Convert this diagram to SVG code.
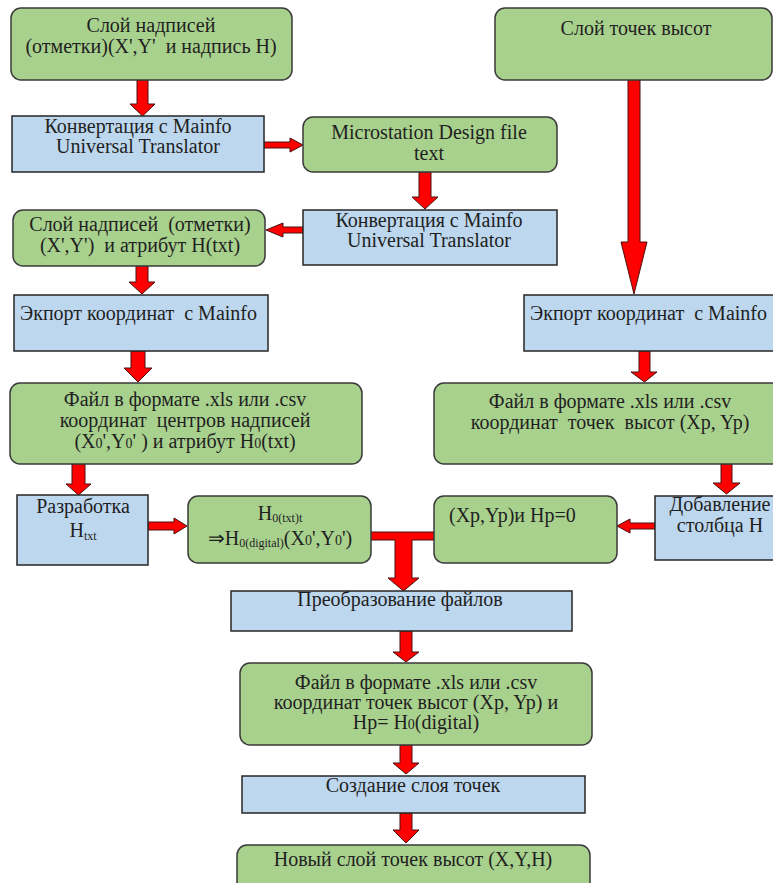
<svg xmlns="http://www.w3.org/2000/svg" width="773" height="883" viewBox="0 0 773 883">
<style>
.g{fill:#a9d18e;stroke:#3a3a3a;stroke-width:1.5}
.b{fill:#bdd7ee;stroke:#262626;stroke-width:1.5}
.a{fill:#ff0000;stroke:#4a1010;stroke-width:1}
text{font-family:"Liberation Serif","Times New Roman",serif;font-size:20px;fill:#1f1f1f}
.c{text-anchor:middle}
.s{font-size:12px}
.s2{font-size:14px}
</style>
<rect width="773" height="883" fill="#ffffff"/>
<g id="connectors">
<polygon class="a" points="137,80 148,80 148,104 155,104 142.5,116 130,104 137,104"/>
<polygon class="a" points="264,142 290,142 290,138 303,145 290,152 290,148 264,148"/>
<polygon class="a" points="419,172 431,172 431,197 438,197 425,209 412,197 419,197"/>
<polygon class="a" points="303,227 283,227 283,223 266,230 283,237 283,233 303,233"/>
<polygon class="a" points="136,266 148,266 148,282 155,282 142,294 129,282 136,282"/>
<polygon class="a" points="131,351 145,351 145,368 152,368 138,382 124,368 131,368"/>
<polygon class="a" points="72,464 85,464 85,484 91,484 78.5,495 66,484 72,484"/>
<polygon class="a" points="148,522 174,522 174,518 187,526 174,534 174,530 148,530"/>
<polygon class="a" points="628,80 640,80 640,242 647,242 634,294 621,242 628,242"/>
<polygon class="a" points="639,351 650,351 650,372 657,372 644.5,382 631,372 639,372"/>
<polygon class="a" points="721,464 732,464 732,483 740,483 726.5,494 713,483 721,483"/>
<polygon class="a" points="655,523 630,523 630,519 617,526 630,533 630,529 655,529"/>
<polygon class="a" points="371,532 434,532 434,540 412,540 412,578 419,578 403.5,591 388,578 395,578 395,540 371,540"/>
<polygon class="a" points="400,631 412,631 412,652 419,652 406,662 393,652 400,652"/>
<polygon class="a" points="400,745 412,745 412,763 419,763 406,774 393,763 400,763"/>
<polygon class="a" points="400,813 412,813 412,830 419,830 406,843 393,830 400,830"/>
</g>
<g id="n1"><rect class="g" x="11" y="8" width="281" height="72" rx="10"/>
<text class="c" x="151" y="32">Слой надписей</text>
<text class="c" x="151" y="53" xml:space="preserve">(отметки)(X',Y'  и надпись H)</text></g>
<g id="n2"><rect class="b" x="12" y="116" width="252" height="56"/>
<text class="c" x="138" y="133">Конвертация с Mainfo</text>
<text class="c" x="138" y="153">Universal Translator</text></g>
<g id="n3"><rect class="g" x="303" y="117" width="254" height="55" rx="10"/>
<text class="c" x="429" y="139">Microstation Design file</text>
<text class="c" x="429" y="160">text</text></g>
<g id="n4"><rect class="b" x="303" y="210" width="254" height="55"/>
<text class="c" x="429" y="227">Конвертация с Mainfo</text>
<text class="c" x="429" y="247">Universal Translator</text></g>
<g id="n5"><rect class="g" x="13" y="210" width="252" height="56" rx="10"/>
<text class="c" x="140" y="231" xml:space="preserve">Слой надписей  (отметки)</text>
<text class="c" x="140" y="252" xml:space="preserve">(X',Y')  и атрибут H(txt)</text></g>
<g id="n6"><rect class="b" x="14" y="295" width="254" height="56"/>
<text x="20" y="320" xml:space="preserve">Экпорт координат  с Mainfo</text></g>
<g id="n7"><rect class="g" x="10" y="383" width="352" height="81" rx="10"/>
<text class="c" x="185" y="406">Файл в формате .xls или .csv</text>
<text class="c" x="185" y="427" xml:space="preserve">координат  центров надписей</text>
<text class="c" x="185" y="448" xml:space="preserve">(X<tspan class="s2">0</tspan>',Y<tspan class="s2">0</tspan>' ) и атрибут H<tspan class="s2">0</tspan>(txt)</text></g>
<g id="n8"><rect class="b" x="17" y="495" width="131" height="70"/>
<text class="c" x="83" y="513">Разработка</text>
<text class="c" x="83" y="537">H<tspan class="s" dy="3">txt</tspan></text></g>
<g id="n9"><rect class="g" x="188" y="496" width="183" height="67" rx="10"/>
<text class="c" x="280" y="520">H<tspan class="s" dy="2">0(txt)t</tspan></text>
<text class="c" x="280" y="545">⇒H<tspan class="s" dy="2">0(digital)</tspan><tspan dy="-2">(X</tspan><tspan class="s2">0</tspan>',Y<tspan class="s2">0</tspan>')</text></g>
<g id="n10"><rect class="b" x="231" y="591" width="341" height="40"/>
<text class="c" x="400" y="606">Преобразование файлов</text></g>
<g id="n11"><rect class="g" x="240" y="663" width="352" height="82" rx="10"/>
<text class="c" x="416" y="689">Файл в формате .xls или .csv</text>
<text class="c" x="416" y="709">координат точек высот (Xp, Yp) и</text>
<text class="c" x="416" y="729">Hp= H<tspan class="s2">0</tspan>(digital)</text></g>
<g id="n12"><rect class="b" x="242" y="776" width="343" height="37"/>
<text class="c" x="413" y="792">Создание слоя точек</text></g>
<g id="n13"><rect class="g" x="237" y="845" width="353" height="50" rx="10"/>
<text class="c" x="413" y="866">Новый слой точек высот (X,Y,H)</text></g>
<g id="r1"><rect class="g" x="495" y="8" width="277" height="72" rx="10"/>
<text class="c" x="636" y="35">Слой точек высот</text></g>
<g id="r2"><rect class="b" x="524" y="295" width="260" height="56"/>
<text x="530" y="320" xml:space="preserve">Экпорт координат  с Mainfo</text></g>
<g id="r3"><rect class="g" x="434" y="383" width="350" height="81" rx="10"/>
<text class="c" x="610" y="408">Файл в формате .xls или .csv</text>
<text class="c" x="610" y="429" xml:space="preserve">координат  точек  высот (Xp, Yp)</text></g>
<g id="r4"><rect class="b" x="655" y="496" width="130" height="64"/>
<text class="c" x="720" y="511">Добавление</text>
<text class="c" x="720" y="532">столбца H</text></g>
<g id="r5"><rect class="g" x="434" y="496" width="183" height="67" rx="10"/>
<text x="449" y="522">(Xp,Yp)и Hp=0</text></g>
</svg>
